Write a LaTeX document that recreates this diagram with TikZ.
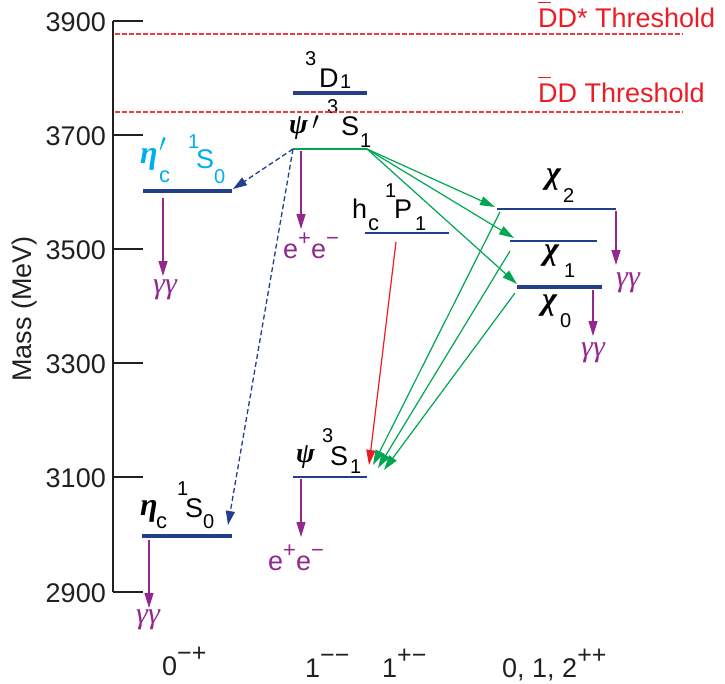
\documentclass[tikz,border=0pt]{standalone}
\usepackage{fontspec}
\setmainfont{Liberation Sans}
\newfontfamily\grk{Liberation Serif}
\usetikzlibrary{arrows.meta}
\definecolor{navy}{HTML}{233E8B}
\definecolor{cyn}{HTML}{00AEEF}
\definecolor{purp}{HTML}{92278F}
\definecolor{grn}{HTML}{00A651}
\definecolor{rd}{HTML}{ED1C24}
\definecolor{rdl}{HTML}{F03C3C}
\definecolor{axc}{HTML}{231F20}
\newcommand\fA{\fontsize{27}{30}\selectfont}
\newcommand\fB{\fontsize{20}{22}\selectfont}
\newcommand\fC{\fontsize{22}{24}\selectfont}
\newcommand\fJ{\fontsize{25}{27}\selectfont}
\newcommand\fGe{\fontsize{32}{34}\selectfont\grk\itshape\bfseries}
\newcommand\fGp{\fontsize{28}{30}\selectfont\grk\itshape\bfseries}
\newcommand\fGm{\fontsize{30}{32}\selectfont\grk\itshape}
\newcommand\supr[1]{\raisebox{13pt}{\fC #1}}
\newcommand\supj[1]{\raisebox{14pt}{\fJ #1}}
\newcommand\dbar{\leavevmode\rlap{\raisebox{24pt}{\rule{13pt}{1.5pt}}}D}
\tikzset{
  lb/.style={inner sep=0pt,anchor=base west,font=\fA},
  lbs/.style={inner sep=0pt,anchor=base west,font=\fB},
  lbc/.style={inner sep=0pt,anchor=base west,font=\fC},
  lbe/.style={inner sep=0pt,anchor=base west,font=\fGe},
  lbp/.style={inner sep=0pt,anchor=base west,font=\fGp},
  lbgg/.style={inner sep=0pt,anchor=base,font=\fGm,text=purp},
  tick/.style={inner sep=0pt,anchor=east,font=\fA,text=axc},
  bar/.style={navy,line width=#1},
  purar/.style={purp,line width=1.3pt,-{Triangle[length=15pt,width=9pt]}},
  grar/.style={grn,line width=1.2pt,-{Triangle[length=15pt,width=9pt]}},
  rdar/.style={rd,line width=1.2pt,-{Triangle[length=15pt,width=9pt]}},
  blar/.style={navy,line width=1.3pt,dash pattern=on 5pt off 3pt,-{Triangle[length=14pt,width=9pt]}},
}
\begin{document}
\begin{tikzpicture}[x=1pt,y=-1pt]
\useasboundingbox (0,0) rectangle (725,683);
% axis
\coordinate (axT) at (113,21);
\coordinate (axB) at (113,592);
\draw[axc,line width=2pt] (axT) -- (axB);
\coordinate (tk3900) at (113,21);  \coordinate (tke3900) at (143,21);
\coordinate (tk3700) at (113,135); \coordinate (tke3700) at (143,135);
\coordinate (tk3500) at (113,249); \coordinate (tke3500) at (143,249);
\coordinate (tk3300) at (113,363); \coordinate (tke3300) at (143,363);
\coordinate (tk3100) at (113,477); \coordinate (tke3100) at (143,477);
\coordinate (tk2900) at (113,592); \coordinate (tke2900) at (143,592);
\draw[axc,line width=2pt] (tk3900) -- (tke3900) (tk3700) -- (tke3700) (tk3500) -- (tke3500)
  (tk3300) -- (tke3300) (tk3100) -- (tke3100) (tk2900) -- (tke2900);
\node[tick] (tl3900) at (106,22) {3900};
\node[tick] (tl3700) at (106,136) {3700};
\node[tick] (tl3500) at (106,250) {3500};
\node[tick] (tl3300) at (106,364) {3300};
\node[tick] (tl3100) at (106,478) {3100};
\node[tick] (tl2900) at (106,593) {2900};
\node[inner sep=0pt,font=\fA,text=axc,rotate=90] (ylab) at (25,309) {Mass (MeV)};
% levels
\coordinate (etapL) at (143,191); \coordinate (etapR) at (232,191);
\coordinate (etaL) at (142,536); \coordinate (etaR) at (232,536);
\coordinate (DL) at (293,93); \coordinate (DR) at (367,93);
\coordinate (psipL) at (293,149); \coordinate (psipR) at (367,149);
\coordinate (hcL) at (365,233); \coordinate (hcR) at (449,233);
\coordinate (c2L) at (497,209); \coordinate (c2R) at (616,209);
\coordinate (c1L) at (510,241); \coordinate (c1R) at (597,241);
\coordinate (c0L) at (517,287); \coordinate (c0R) at (602,287);
\coordinate (psiL) at (293,477); \coordinate (psiR) at (367,477);
\draw[bar=4pt] (etapL) -- (etapR);
\draw[bar=4.5pt] (etaL) -- (etaR);
\draw[bar=3.5pt] (DL) -- (DR);
\draw[grn,line width=1.8pt] (psipL) -- (psipR);
\draw[bar=2.2pt] (hcL) -- (hcR);
\draw[bar=2.5pt] (c2L) -- (c2R);
\draw[bar=2.5pt] (c1L) -- (c1R);
\draw[bar=4pt] (c0L) -- (c0R);
\draw[bar=1.4pt] (psiL) -- (psiR);
% labels: eta_c'
\node[lbe,text=cyn] (etapG) at (140,163) {η};
\node[lb,text=cyn] (etapPr) at (159,151) {$\prime$};
\node[lbc,text=cyn] (etapc) at (159,182) {c};
\node[lbs,text=cyn] (etap1) at (188,148) {1};
\node[lb,text=cyn] (etapS) at (196,168) {S};
\node[lbs,text=cyn] (etap0) at (214,183) {0};
% eta_c
\node[lbe] (etaG) at (140,515) {η};
\node[lbc] (etac) at (156,528) {c};
\node[lbs] (eta1) at (177,495) {1};
\node[lb] (etaS) at (185,517) {S};
\node[lbs] (eta0) at (203,528) {0};
% 3D1
\node[lbs] (D3) at (305,65) {3};
\node[lb] (DD) at (319,87) {D};
\node[lbs] (D1) at (340,88) {1};
% psi' 3S1
\node[lbp] (psipG) at (289,133) {ψ};
\node[lb] (psipPr) at (312,129) {$\prime$};
\node[lbs] (psip3) at (327,113) {3};
\node[lb] (psipS) at (341,135) {S};
\node[lbs] (psip1) at (360,147) {1};
% h_c 1P1
\node[lb] (hch) at (352,218) {h};
\node[lbc] (hcc) at (368,230) {c};
\node[lbs] (hc1) at (385,197) {1};
\node[lb] (hcP) at (394,218) {P};
\node[lbs] (hc1b) at (415,230) {1};
% psi 3S1
\node[lbp] (psiG) at (296,462) {ψ};
\node[lbs] (psi3) at (322,442) {3};
\node[lb] (psiS) at (330,465) {S};
\node[lbs] (psi1) at (350,473) {1};
% chi labels
\node[lbe] (c2G) at (546,183) {χ};
\node[lbs] (c2n) at (563,202) {2};
\node[lbe] (c1G) at (544,259) {χ};
\node[lbs] (c1n) at (564,277) {1};
\node[lbe] (c0G) at (542,309) {χ};
\node[lbs] (c0n) at (560,327) {0};
% purple decays
\coordinate (etapD) at (163,198); \coordinate (etapT) at (163,276);
\coordinate (psipD) at (301,151); \coordinate (psipT) at (301,229);
\coordinate (psiD) at (301,479); \coordinate (psiT) at (301,537);
\coordinate (etaD) at (149,540); \coordinate (etaT) at (149,608);
\coordinate (c2D) at (616,211); \coordinate (c2T) at (616,265);
\coordinate (c0D) at (593,290); \coordinate (c0T) at (593,336);
\draw[purar] (etapD) -- (etapT);
\draw[purar] (psipD) -- (psipT);
\draw[purar] (psiD) -- (psiT);
\draw[purar] (etaD) -- (etaT);
\draw[purar] (c2D) -- (c2T);
\draw[purar] (c0D) -- (c0T);
\node[lbgg] (gg1) at (165,293) {γγ};
\node[lbgg] (gg2) at (148,623) {γγ};
\node[lbgg] (gg3) at (628,286) {γγ};
\node[lbgg] (gg4) at (593,356) {γγ};
\node[lb,text=purp] (ee1) at (283,258) {e\supr{+}e\supr{−}};
\node[lb,text=purp] (ee2) at (268,570) {e\supr{+}e\supr{−}};
% green transitions
\coordinate (t2) at (495,207); \coordinate (t1) at (514,238); \coordinate (t0) at (517,284);
\draw[grar] (psipR) -- (t2);
\draw[grar] (psipR) -- (t1);
\draw[grar] (psipR) -- (t0);
\coordinate (s2) at (500,212); \coordinate (s1) at (510,251); \coordinate (s0) at (515,293);
\coordinate (e2) at (373,465); \coordinate (e1) at (378,468); \coordinate (e0) at (384,470);
\draw[grar] (s2) -- (e2);
\draw[grar] (s1) -- (e1);
\draw[grar] (s0) -- (e0);
% red
\coordinate (hcD) at (396,242); \coordinate (hcT) at (369,465);
\draw[rdar] (hcD) -- (hcT);
% blue dashed
\coordinate (bt1) at (233,189); \coordinate (bt2) at (228,525);
\draw[blar] (psipL) -- (bt1);
\draw[blar] (psipL) -- (bt2);
% JPC labels
\node[lb,text=axc] (j1) at (162,675) {0\supj{−+}};
\node[lb,text=axc] (j2) at (305,677) {1\supj{−−}};
\node[lb,text=axc] (j3) at (382,677) {1\supj{+−}};
\node[lb,text=axc] (j4) at (502,677) {0, 1, 2\supj{++}};
% thresholds
\coordinate (th1L) at (115,34); \coordinate (th1R) at (683,34);
\coordinate (th2L) at (115,112); \coordinate (th2R) at (683,112);
\draw[color=rdl,line width=1.5pt,dash pattern=on 4.5pt off 2.5pt] (th1L) -- (th1R);
\draw[color=rdl,line width=1.5pt,dash pattern=on 4.5pt off 2.5pt] (th2L) -- (th2R);
\node[lb,text=rd] (thl1) at (538,27) {\dbar D* Threshold};
\node[lb,text=rd] (thl2) at (538,102) {\dbar D Threshold};
\end{tikzpicture}
\end{document}
